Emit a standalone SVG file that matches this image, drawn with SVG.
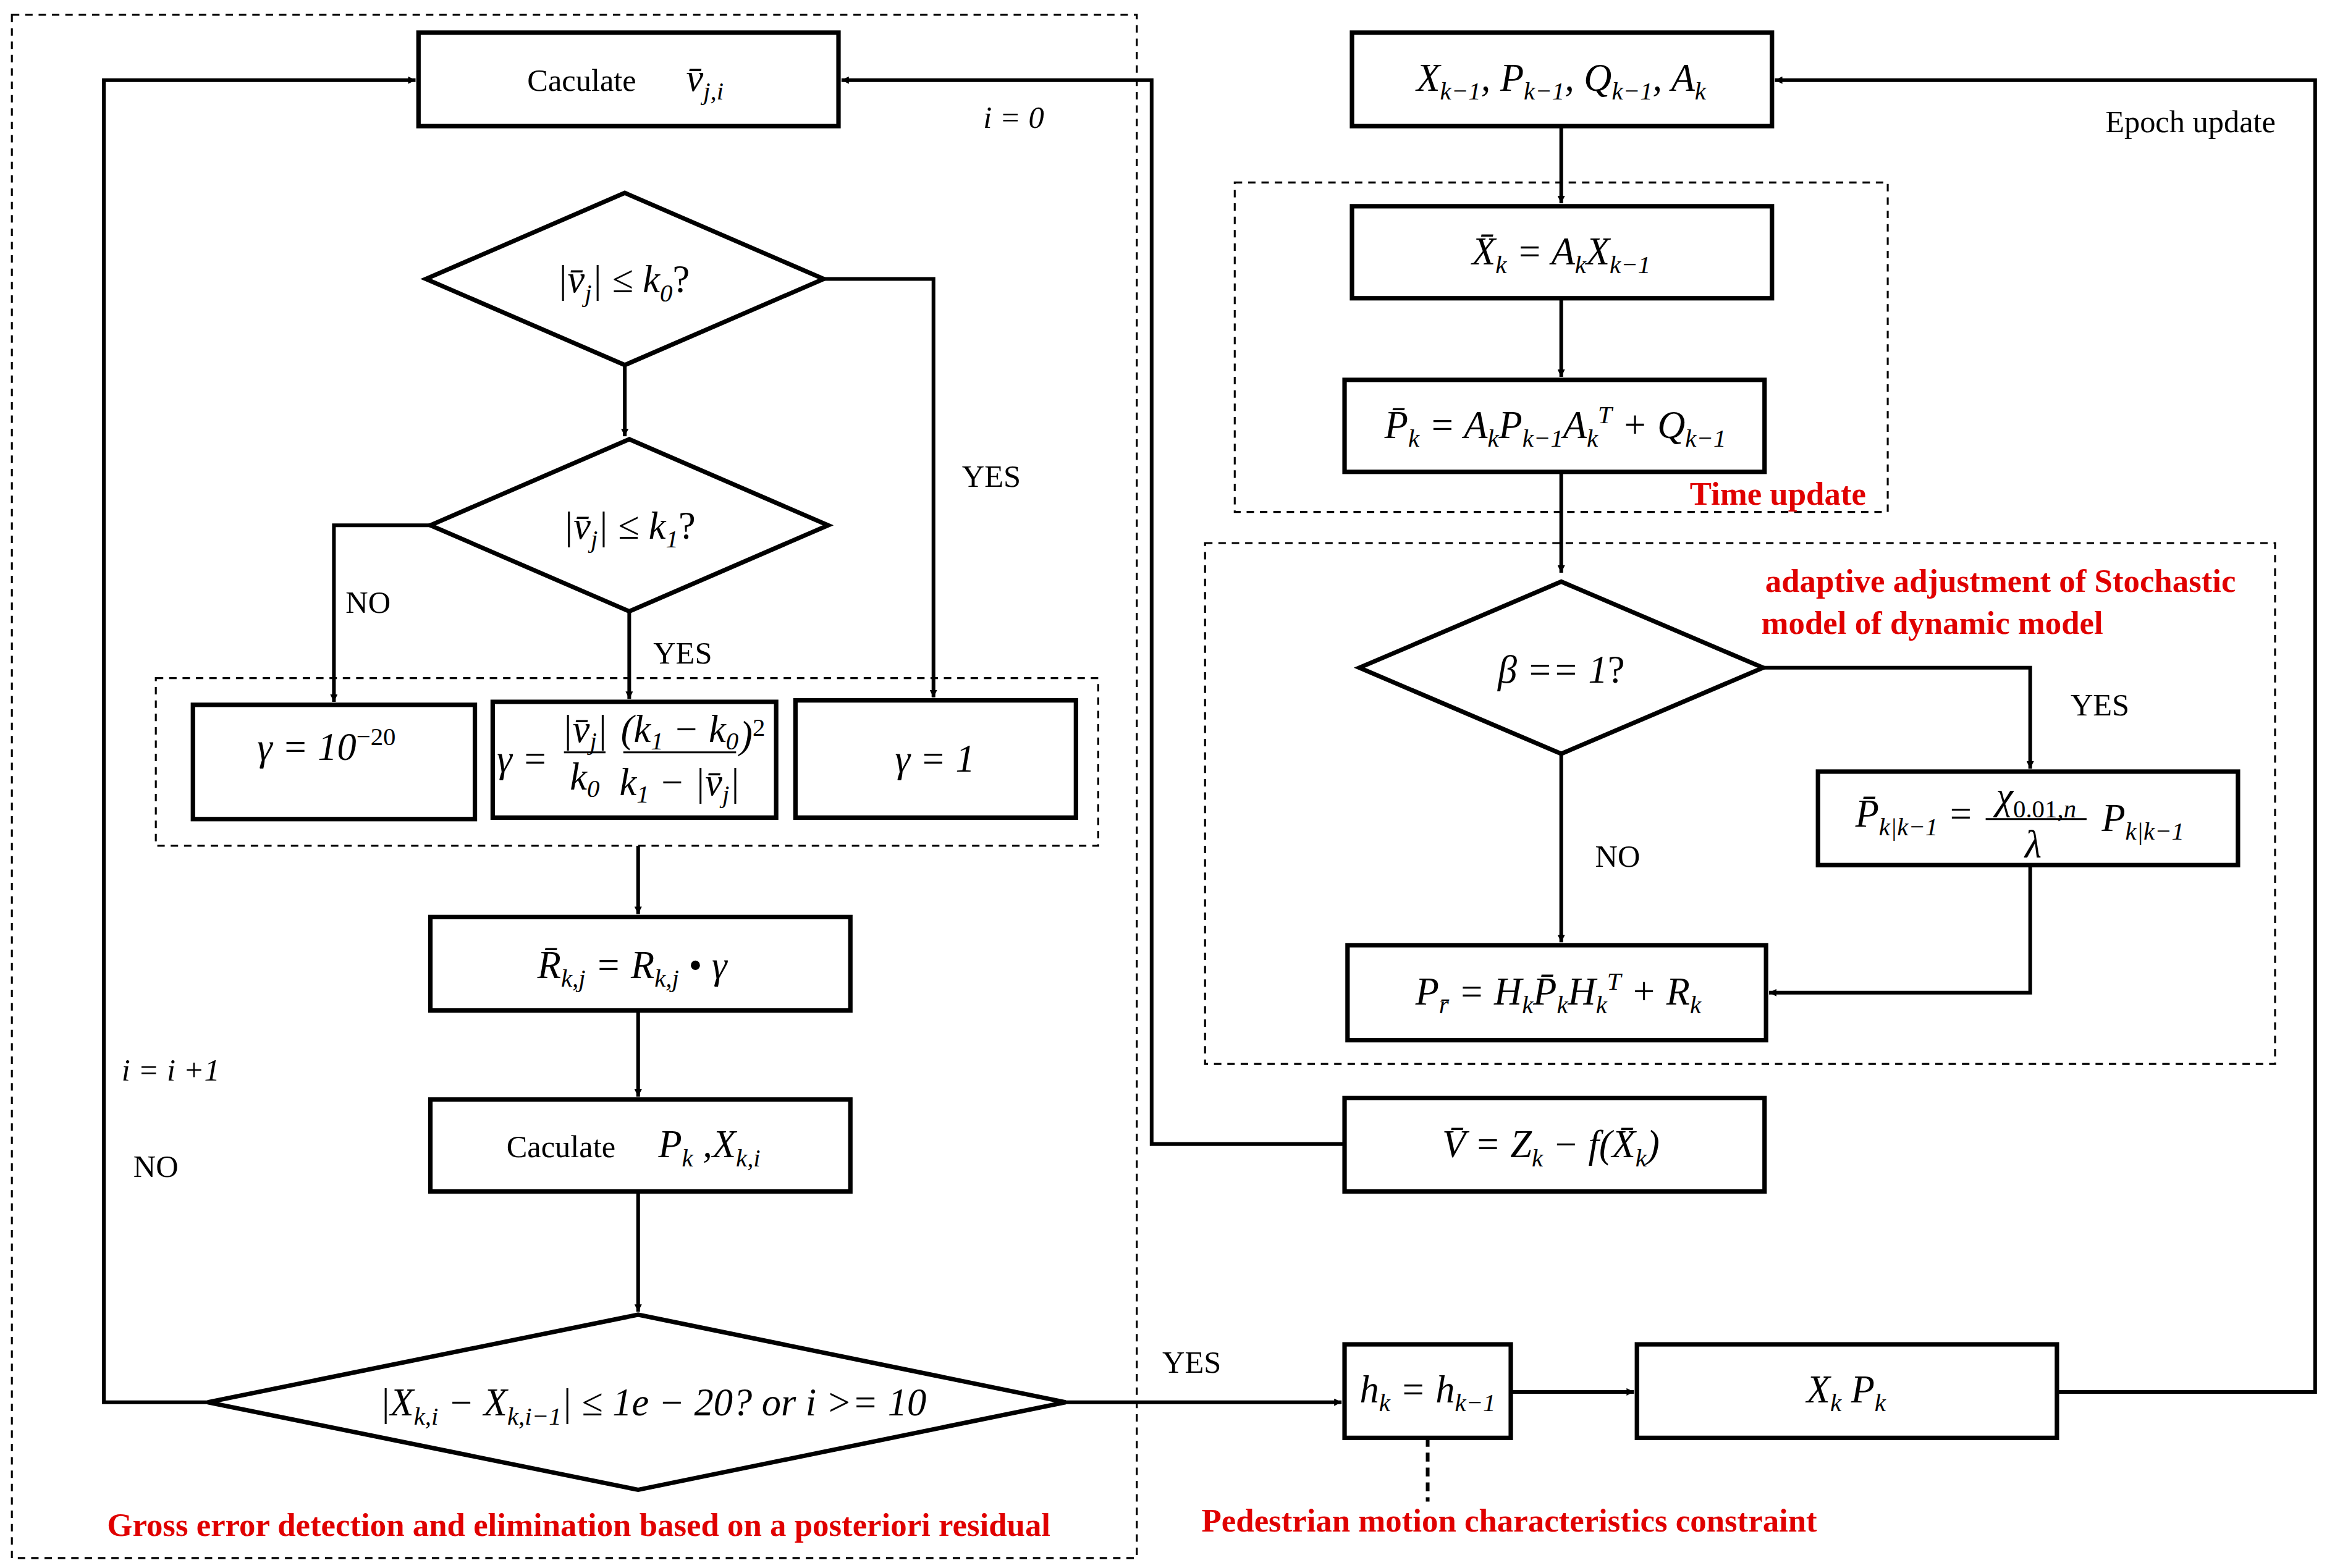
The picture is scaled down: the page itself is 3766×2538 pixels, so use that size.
<svg xmlns="http://www.w3.org/2000/svg" width="3766" height="2538" viewBox="0 0 3766 2538">
<defs>
<marker id="ah" viewBox="0 0 10 10" refX="10" refY="5" markerWidth="5" markerHeight="5" orient="auto" markerUnits="userSpaceOnUse"><path d="M0,0 L10,5 L0,10 z" fill="#000"/></marker>
<style>
.b{fill:#fff;stroke:#000;stroke-width:3}
.d{fill:none;stroke:#000;stroke-width:1.3;stroke-dasharray:5,4}
.c{fill:none;stroke:#000;stroke-width:2.5}
.c2{fill:none;stroke:#000;stroke-width:2.5;marker-end:url(#ah)}
.m{font-family:"Liberation Serif",serif;font-size:26px;font-style:italic;text-anchor:middle}
.t{font-family:"Liberation Serif",serif;font-size:21px;text-anchor:middle}
.r{font-family:"Liberation Serif",serif;font-size:22px;font-weight:bold;fill:#e00000;text-anchor:middle}
.s{font-size:17px}
</style>
</defs>
<rect width="3766" height="2538" fill="#fff"/>
<g transform="scale(2.4018)">
<g id="frames">
<rect class="d" x="8" y="10" width="758" height="1040"/>
<rect class="d" x="105" y="457" width="635" height="113"/>
<rect class="d" x="832" y="123" width="440" height="222"/>
<rect class="d" x="812" y="366" width="721" height="351"/>
</g>
<g id="connectors">
<polyline class="c2" points="421,246 421,294"/>
<polyline class="c2" points="555,188 629,188 629,470"/>
<polyline class="c2" points="290,354 225,354 225,473"/>
<polyline class="c2" points="424,412 424,471"/>
<polyline class="c2" points="430,570 430,616"/>
<polyline class="c2" points="430,681 430,739"/>
<polyline class="c2" points="430,803 430,884"/>
<polyline class="c2" points="140,945 70,945 70,54 280,54"/>
<polyline class="c2" points="906,771 776,771 776,54 567,54"/>
<polyline class="c2" points="718,945 904,945"/>
<polyline class="c2" points="1018,938 1101,938"/>
<polyline class="c2" points="1386,938 1560,938 1560,54 1196,54"/>
<polyline class="c2" points="1052,85 1052,137"/>
<polyline class="c2" points="1052,201 1052,254"/>
<polyline class="c2" points="1052,318 1052,386"/>
<polyline class="c2" points="1052,508 1052,635"/>
<polyline class="c2" points="1188,450 1368,450 1368,518"/>
<polyline class="c2" points="1368,583 1368,669 1192,669"/>
<line x1="962" y1="969" x2="962" y2="1012" stroke="#000" stroke-width="2.5" stroke-dasharray="6,4"/>
<text class="t" x="683" y="86" font-style="italic" font-size="24">i = 0</text>
<text class="t" x="668" y="328">YES</text>
<text class="t" x="248" y="413">NO</text>
<text class="t" x="460" y="447">YES</text>
<text class="t" x="115" y="728" font-style="italic" font-size="24">i = i +1</text>
<text class="t" x="105" y="793">NO</text>
<text class="t" x="803" y="925">YES</text>
<text class="t" x="1476" y="89">Epoch update</text>
<text class="t" x="1090" y="584">NO</text>
<text class="t" x="1415" y="482">YES</text>
</g>
<g id="n_calc_v"><rect class="b" x="282" y="22" width="283" height="63"/><text class="t" x="392" y="61">Caculate</text><text class="m" x="475" y="61">v̄<tspan class="s" dy="6">j,i</tspan></text></g>
<g id="n_d1"><polygon class="b" points="287,188 421,130 555,188 421,246"/><text class="m" x="420" y="197">|v̄<tspan class="s" dy="6">j</tspan><tspan dy="-6">| ≤ k</tspan><tspan class="s" dy="6">0</tspan><tspan dy="-6" font-style="normal">?</tspan></text></g>
<g id="n_d2"><polygon class="b" points="290,354 424,296 558,354 424,412"/><text class="m" x="424" y="363">|v̄<tspan class="s" dy="6">j</tspan><tspan dy="-6">| ≤ k</tspan><tspan class="s" dy="6">1</tspan><tspan dy="-6" font-style="normal">?</tspan></text></g>
<g id="n_g1"><rect class="b" x="130" y="475" width="190" height="77"/><text class="m" x="220" y="512">γ = 10<tspan class="s" dy="-10" font-style="normal">−20</tspan></text></g>
<g id="n_g2"><rect class="b" x="332" y="473" width="191" height="78"/><text class="m" x="352" y="520" font-size="19">γ =</text><text class="m" x="394" y="500" font-size="19">|v̄<tspan class="s" dy="5">j</tspan><tspan dy="-5">|</tspan></text><line x1="380" y1="507" x2="408" y2="507" stroke="#000" stroke-width="1.3"/><text class="m" x="394" y="532" font-size="19">k<tspan class="s" dy="5">0</tspan></text><text class="m" x="458" y="500" font-size="19">(k<tspan class="s" dy="5">1</tspan><tspan dy="-5"> − k</tspan><tspan class="s" dy="5">0</tspan></text><line x1="420" y1="507" x2="496" y2="507" stroke="#000" stroke-width="1.3"/><text class="m" x="458" y="536" font-size="19">k<tspan class="s" dy="5">1</tspan><tspan dy="-5"> − |v̄</tspan><tspan class="s" dy="5">j</tspan><tspan dy="-5">|</tspan></text><text class="m" x="507" y="504" font-size="19">)<tspan class="s" dy="-8" font-style="normal">2</tspan></text></g>
<g id="n_g3"><rect class="b" x="536" y="472" width="189" height="79"/><text class="m" x="630" y="520">γ = 1</text></g>
<g id="n_R"><rect class="b" x="290" y="618" width="283" height="63"/><text class="m" x="426" y="659">R̄<tspan class="s" dy="6">k,j</tspan><tspan dy="-6"> = R</tspan><tspan class="s" dy="6">k,j</tspan><tspan dy="-6" font-style="normal"> • </tspan>γ</text></g>
<g id="n_calcP"><rect class="b" x="290" y="741" width="283" height="62"/><text class="t" x="378" y="780">Caculate</text><text class="m" x="478" y="780">P<tspan class="s" dy="6">k</tspan><tspan dy="-6">  ,X</tspan><tspan class="s" dy="6">k,i</tspan></text></g>
<g id="n_d3"><polygon class="b" points="140,945 430,886 718,945 430,1004"/><text class="m" x="440" y="954">|X<tspan class="s" dy="6">k,i</tspan><tspan dy="-6"> − X</tspan><tspan class="s" dy="6">k,i−1</tspan><tspan dy="-6">| ≤ 1e − 20? or  i &gt;= 10</tspan></text></g>
<g id="n_Xk1"><rect class="b" x="911" y="22" width="283" height="63"/><text class="m" x="1052" y="61">X<tspan class="s" dy="6">k−1</tspan><tspan dy="-6">, P</tspan><tspan class="s" dy="6">k−1</tspan><tspan dy="-6">, Q</tspan><tspan class="s" dy="6">k−1</tspan><tspan dy="-6">, A</tspan><tspan class="s" dy="6">k</tspan></text></g>
<g id="n_Xbar"><rect class="b" x="911" y="139" width="283" height="62"/><text class="m" x="1052" y="178">X̄<tspan class="s" dy="6">k</tspan><tspan dy="-6"> = A</tspan><tspan class="s" dy="6">k</tspan><tspan dy="-6">X</tspan><tspan class="s" dy="6">k−1</tspan></text></g>
<g id="n_Pbar"><rect class="b" x="906" y="256" width="283" height="62"/><text class="m" x="1048" y="295">P̄<tspan class="s" dy="6">k</tspan><tspan dy="-6"> = A</tspan><tspan class="s" dy="6">k</tspan><tspan dy="-6">P</tspan><tspan class="s" dy="6">k−1</tspan><tspan dy="-6">A</tspan><tspan class="s" dy="6">k</tspan><tspan class="s" dy="-16">T</tspan><tspan dy="10"> + Q</tspan><tspan class="s" dy="6">k−1</tspan></text></g>
<g id="n_beta"><polygon class="b" points="916,450 1052,392 1188,450 1052,508"/><text class="m" x="1052" y="460">β == 1<tspan font-style="normal">?</tspan></text></g>
<g id="n_Pkk"><rect class="b" x="1225" y="520" width="283" height="63"/><text class="m" x="1290" y="557">P̄<tspan class="s" dy="6">k|k−1</tspan><tspan dy="-6"> =</tspan></text><text class="m" x="1372" y="545">χ<tspan class="s" dy="6" font-style="normal">0.01,</tspan><tspan class="s">n</tspan></text><line x1="1338" y1="552" x2="1406" y2="552" stroke="#000" stroke-width="1.3"/><text class="m" x="1370" y="578">λ</text><text class="m" x="1444" y="560">P<tspan class="s" dy="6">k|k−1</tspan></text></g>
<g id="n_Pr"><rect class="b" x="908" y="637" width="282" height="64"/><text class="m" x="1050" y="677">P<tspan class="s" dy="6">r̄</tspan><tspan dy="-6"> = H</tspan><tspan class="s" dy="6">k</tspan><tspan dy="-6">P̄</tspan><tspan class="s" dy="6">k</tspan><tspan dy="-6">H</tspan><tspan class="s" dy="6">k</tspan><tspan class="s" dy="-16">T</tspan><tspan dy="10"> + R</tspan><tspan class="s" dy="6">k</tspan></text></g>
<g id="n_V"><rect class="b" x="906" y="740" width="283" height="63"/><text class="m" x="1045" y="780">V̄ = Z<tspan class="s" dy="6">k</tspan><tspan dy="-6"> − f(X̄</tspan><tspan class="s" dy="6">k</tspan><tspan dy="-6">)</tspan></text></g>
<g id="n_h"><rect class="b" x="906" y="906" width="112" height="63"/><text class="m" x="962" y="945">h<tspan class="s" dy="6">k</tspan><tspan dy="-6"> = h</tspan><tspan class="s" dy="6">k−1</tspan></text></g>
<g id="n_XP"><rect class="b" x="1103" y="906" width="283" height="63"/><text class="m" x="1244" y="945">X<tspan class="s" dy="6">k</tspan><tspan dy="-6">    P</tspan><tspan class="s" dy="6">k</tspan></text></g>
<g id="labels">
<text class="r" x="1198" y="340">Time update</text>
<text class="r" x="1348" y="399">adaptive adjustment of Stochastic</text>
<text class="r" x="1302" y="427">model of dynamic model</text>
<text class="r" x="390" y="1035">Gross error detection and elimination  based on a posteriori residual</text>
<text class="r" x="1017" y="1032">Pedestrian motion characteristics  constraint</text>
</g>
</g>
</svg>
